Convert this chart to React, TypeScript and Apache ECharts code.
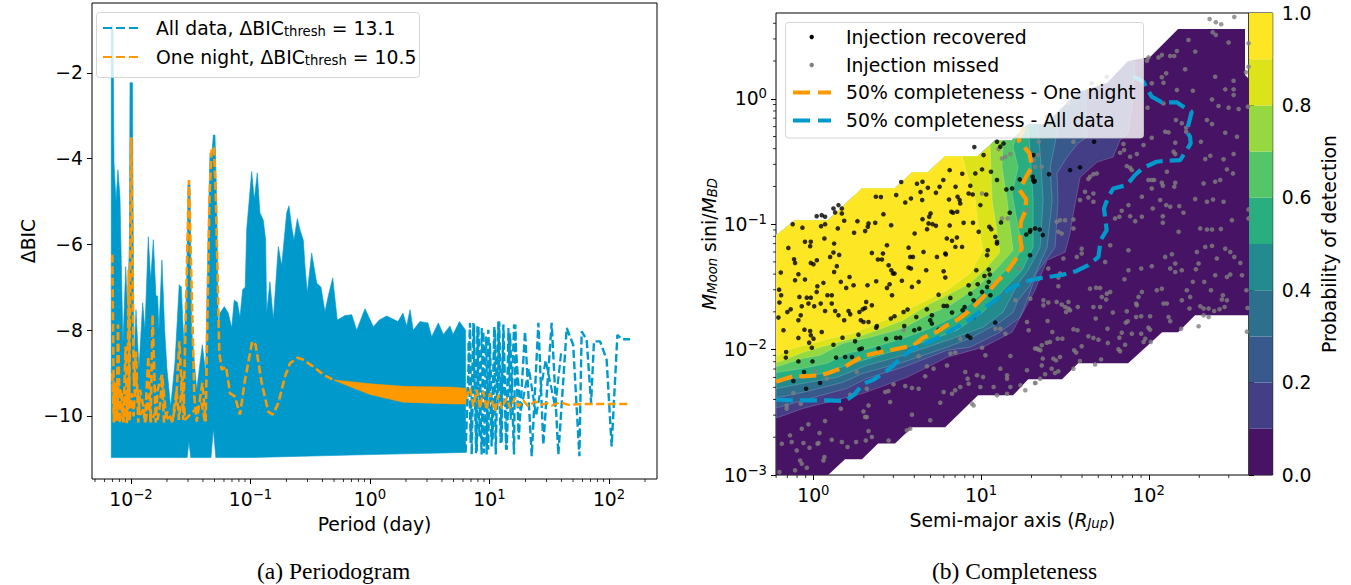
import React, { useEffect, useRef } from "react";
import * as echarts from "echarts";

const FONT = "DejaVu Sans";
const FS = 18.8;
const BLUE = "#0099CC";
const ORANGE = "#FF9900";

// Left panel. Each pair is [log10(period in days), delta BIC].
const allDataUpper: number[][] = [[-2.165,-0.9],[-2.15,-0.9],[-2.142,-4.1],[-2.125,-5],[-2.109,-4.26],[-2.092,-4.9],[-2.084,-6],[-2.067,-8.3],[-2.044,-6.52],[-2.029,-7.5],[-2.013,-6],[-2.008,-2.23],[-1.987,-2.23],[-1.983,-5],[-1.975,-8.76],[-1.958,-7.52],[-1.933,-8.9],[-1.902,-7.36],[-1.883,-8],[-1.855,-5.82],[-1.835,-6.83],[-1.813,-5.89],[-1.791,-7.2],[-1.777,-7.2],[-1.766,-8],[-1.741,-6.36],[-1.718,-8],[-1.699,-8.9],[-1.668,-9.79],[-1.632,-8.76],[-1.596,-6.94],[-1.579,-6.99],[-1.556,-8.39],[-1.534,-7],[-1.523,-4.6],[-1.506,-4.6],[-1.492,-8],[-1.45,-9.39],[-1.403,-8.34],[-1.375,-9],[-1.356,-6],[-1.339,-3.87],[-1.322,-3.87],[-1.311,-3.45],[-1.297,-3.45],[-1.283,-5],[-1.269,-8],[-1.255,-7.6],[-1.219,-7.45],[-1.186,-7.6],[-1.157,-7.95],[-1.136,-7.3],[-1.11,-7.35],[-1.088,-7.7],[-1.065,-7.05],[-1.044,-7],[-1.032,-5.66],[-0.99,-4.3],[-0.968,-4.96],[-0.943,-4.33],[-0.921,-5.26],[-0.893,-5.43],[-0.873,-5.9],[-0.865,-7.6],[-0.837,-6.87],[-0.809,-7.75],[-0.767,-6.05],[-0.739,-6.5],[-0.697,-5.26],[-0.678,-5.1],[-0.655,-5.6],[-0.636,-5.9],[-0.608,-5.4],[-0.586,-5.66],[-0.558,-5.9],[-0.544,-6.5],[-0.525,-7.13],[-0.488,-6.2],[-0.446,-6.9],[-0.41,-7],[-0.377,-7.57],[-0.349,-7.2],[-0.312,-6.78],[-0.274,-7.76],[-0.209,-7.66],[-0.153,-7.64],[-0.111,-8],[-0.042,-7.5],[0.028,-7.92],[0.078,-7.76],[0.14,-7.67],[0.234,-7.8],[0.276,-7.6],[0.307,-7.9],[0.335,-7.52],[0.362,-8],[0.418,-7.8],[0.485,-7.83],[0.516,-8.15],[0.572,-7.83],[0.614,-8.1],[0.669,-7.9],[0.695,-8.1],[0.748,-7.8],[0.8,-8]];
const allDataLower: number[][] = [[0.8,-10.85],[0.5,-10.87],[0,-10.9],[-1,-10.97],[-1.29,-10.97],[-1.311,-10.3],[-1.33,-10.97],[-1.5,-10.97],[-1.515,-10.6],[-1.53,-10.97],[-2.165,-10.97]];
const allDataLongPeriods: number[][] = [[0.8,-10.85],[0.837,-7.83],[0.851,-10.9],[0.87,-7.87],[0.893,-10.83],[0.907,-7.91],[0.934,-10.9],[0.948,-8.03],[0.976,-10.9],[0.99,-7.99],[1.018,-10.71],[1.04,-7.91],[1.052,-10.9],[1.074,-7.8],[1.093,-10.63],[1.116,-7.87],[1.144,-10.79],[1.172,-8.07],[1.205,-10.9],[1.216,-7.87],[1.244,-10.55],[1.297,-8.03],[1.353,-10.94],[1.409,-7.83],[1.45,-10.67],[1.52,-7.83],[1.576,-10.9],[1.646,-7.95],[1.7,-8.34],[1.752,-10.94],[1.771,-8.03],[1.813,-8.22],[1.85,-9.7],[1.874,-8.26],[1.925,-8.26],[1.98,-8.69],[2.022,-10.71],[2.07,-8.11],[2.106,-8.21],[2.176,-8.21]];
const allDataLongPeriodsInner: number[][] = [[0.823,-8.3],[0.842,-10.63],[0.865,-7.83],[0.887,-10.87],[0.898,-7.91],[0.915,-10.48],[0.935,-7.95],[0.954,-10.87],[0.971,-8.15],[0.99,-10.79],[1.004,-8.3],[1.027,-10.55],[1.046,-7.99],[1.066,-9.85],[1.082,-7.8],[1.102,-10.63],[1.116,-8.07],[1.138,-10.79],[1.158,-7.95],[1.177,-10.09],[1.205,-7.87],[1.26,-9.9],[1.33,-8.9],[1.39,-10],[1.47,-8.7],[1.55,-9.8],[1.6,-8.5]];
const oneNightLeft: number[][] = [[-2.156,-6.24],[-2.142,-10.15],[-2.131,-9.31],[-2.12,-10.15],[-2.109,-7.87],[-2.092,-10.15],[-2.085,-9.4],[-2.078,-9.39],[-2.064,-10.15],[-2.045,-8.38],[-2.031,-10.15],[-2.019,-6.59],[-2.014,-9.8],[-1.997,-3.5],[-1.98,-8.38],[-1.975,-9.31],[-1.958,-8.5],[-1.939,-10.15],[-1.925,-9.39],[-1.902,-9.7],[-1.883,-10.15],[-1.855,-8.61],[-1.835,-10.15],[-1.819,-7.64],[-1.793,-10.15],[-1.777,-9.39],[-1.741,-9.04],[-1.724,-10.15],[-1.696,-9.9],[-1.654,-10.13],[-1.623,-9.7],[-1.595,-8.26],[-1.562,-10.09],[-1.515,-4.5],[-1.47,-9.55],[-1.45,-10.13],[-1.403,-9.23],[-1.375,-10.13],[-1.344,-5],[-1.325,-3.75],[-1.305,-3.75],[-1.289,-5],[-1.261,-8.53],[-1.241,-8.92],[-1.205,-8.85],[-1.171,-9.47],[-1.13,-9.55],[-1.088,-9.97],[-1.046,-9.16],[-0.985,-8.26],[-0.957,-8.34],[-0.906,-9.23],[-0.851,-9.9],[-0.814,-9.97],[-0.767,-9.7],[-0.711,-9.08],[-0.669,-8.77],[-0.608,-8.64],[-0.558,-8.69],[-0.46,-8.88],[-0.39,-9.04],[-0.307,-9.16]];
const oneNightDense: number[][] = [[-2.156,-9],[-2.142,-10.13],[-2.128,-9.23],[-2.117,-10.09],[-2.106,-9.31],[-2.095,-10.17],[-2.078,-9.54],[-2.064,-10.13],[-2.05,-9.51],[-2.036,-10.17],[-2.022,-9.27],[-2.011,-10.13],[-1.994,-9.47],[-1.978,-10.01],[-1.961,-9.08],[-1.939,-9.58],[-1.925,-9.97],[-1.897,-9.85],[-1.877,-10.17],[-1.855,-9.51],[-1.833,-10.13],[-1.799,-9.93],[-1.777,-10.09],[-1.757,-9.74],[-1.738,-9.08],[-1.71,-9.93],[-1.687,-10.09],[-1.654,-10.13],[-1.618,-9.39],[-1.598,-10.09],[-1.57,-9.08],[-1.548,-10.09],[-1.409,-9.7],[-1.381,-10.13]];
const oneNightBand: number[][] = [[-0.3,-9.16],[0,-9.25],[0.28,-9.31],[0.7,-9.33],[0.81,-9.36],[0.81,-9.72],[0.7,-9.72],[0.28,-9.68],[0,-9.5],[-0.3,-9.17]];
const oneNightRight: number[][] = [[0.8,-9.6],[0.837,-9.35],[0.865,-9.78],[0.893,-9.39],[0.92,-9.82],[0.948,-9.43],[0.976,-9.86],[1.004,-9.47],[1.046,-9.89],[1.074,-9.51],[1.102,-9.82],[1.144,-9.58],[1.172,-9.82],[1.213,-9.58],[1.241,-9.78],[1.283,-9.64],[1.325,-9.78],[1.381,-9.66],[1.437,-9.74],[1.478,-9.7],[1.52,-9.76],[1.59,-9.68],[1.66,-9.74],[1.757,-9.72],[2.176,-9.72]];

// Right panel. Each pair is [log10(semi-major axis), log10(mass ratio)].
const contourLevels = [0.1,0.2,0.3,0.4,0.5,0.6,0.7,0.8,0.9];
const levelColors = ["#471465","#433E85","#38598C","#2D708E","#238A8D","#29AF7F","#55C667","#95D840","#DCE319","#FDE725"];
const regionTop: number[][] = [[-0.222,-1.088],[-0.109,-0.968],[0.088,-0.968],[0.29,-0.713],[0.487,-0.713],[0.589,-0.585],[0.684,-0.585],[0.786,-0.457],[0.982,-0.457],[1.084,-0.33],[1.185,-0.33],[1.281,-0.202],[1.382,-0.202],[1.483,-0.074],[1.579,0.053],[1.752,0.125],[1.877,0.301],[2.008,0.333],[2.175,0.556],[2.574,0.556],[2.574,0.189],[2.598,0.157]];
const regionBottom: number[][] = [[2.598,-1.726],[2.276,-1.726],[2.175,-1.862],[2.08,-1.862],[1.877,-2.109],[1.579,-2.109],[1.483,-2.237],[1.281,-2.237],[1.191,-2.365],[0.982,-2.365],[0.786,-2.62],[0.589,-2.62],[0.487,-2.748],[0.386,-2.748],[0.29,-2.875],[0.189,-2.875],[0.088,-3],[-0.222,-3]];
const contour01: number[][] = [[1.919,0.293],[1.907,-0.01],[1.877,-0.274],[1.829,-0.33],[1.787,-0.465],[1.692,-0.505],[1.591,-0.625],[1.543,-0.968],[1.531,-1.072],[1.501,-1.224],[1.394,-1.287],[1.352,-1.423],[1.322,-1.527],[1.185,-1.862],[1.012,-1.981],[0.798,-2.061],[0.559,-2.221],[0.296,-2.349],[0.201,-2.381],[-0.061,-2.469],[-0.21,-2.541]];
const contour02: number[][] = [[1.62,0.07],[1.632,-0.306],[1.579,-0.354],[1.513,-0.465],[1.453,-0.593],[1.459,-0.808],[1.442,-1.184],[1.334,-1.383],[1.281,-1.583],[1.233,-1.742],[1.113,-1.862],[0.935,-1.981],[0.798,-2.005],[0.535,-2.141],[0.32,-2.229],[0.201,-2.309],[-0.061,-2.405],[-0.21,-2.461]];
const contour03: number[][] = [[1.483,-0.074],[1.412,-0.545],[1.424,-0.808],[1.394,-1.184],[1.293,-1.487],[1.221,-1.607],[1.191,-1.702],[1.113,-1.782],[0.935,-1.91],[0.798,-1.981],[0.535,-2.101],[0.296,-2.189],[0.177,-2.261],[-0.061,-2.341],[-0.21,-2.381]];
const contour04: number[][] = [[1.34,-0.202],[1.358,-0.545],[1.37,-0.808],[1.352,-1.184],[1.281,-1.367],[1.221,-1.471],[1.131,-1.702],[1.012,-1.822],[0.798,-1.926],[0.535,-2.046],[0.32,-2.125],[0.141,-2.221],[-0.061,-2.269],[-0.21,-2.309]];
const contour05: number[][] = [[1.281,-0.202],[1.299,-0.545],[1.311,-0.808],[1.311,-1.184],[1.245,-1.367],[1.131,-1.527],[1.012,-1.702],[0.857,-1.846],[0.696,-1.926],[0.535,-1.989],[0.338,-2.069],[0.201,-2.125],[0.058,-2.189],[-0.061,-2.221],[-0.21,-2.245]];
const contour06: number[][] = [[1.215,-0.274],[1.191,-0.385],[1.221,-0.545],[1.185,-0.753],[1.221,-1.024],[1.251,-1.184],[1.191,-1.311],[1.096,-1.431],[0.976,-1.583],[0.857,-1.726],[0.696,-1.83],[0.535,-1.91],[0.338,-1.989],[0.201,-2.03],[0.082,-2.109],[-0.061,-2.149],[-0.21,-2.181]];
const contour07: number[][] = [[1.131,-0.33],[1.125,-0.545],[1.155,-0.808],[1.173,-1.024],[1.191,-1.208],[1.096,-1.351],[0.976,-1.503],[0.815,-1.647],[0.678,-1.726],[0.535,-1.83],[0.338,-1.902],[0.177,-1.95],[0.04,-2.046],[-0.061,-2.069],[-0.21,-2.133]];
const contour08: number[][] = [[1.054,-0.37],[1.066,-0.808],[1.096,-1.072],[1.113,-1.224],[1.036,-1.343],[0.935,-1.471],[0.774,-1.583],[0.678,-1.647],[0.535,-1.766],[0.38,-1.846],[0.237,-1.91],[0.04,-1.981],[-0.061,-2.022],[-0.21,-2.101]];
const contour09: number[][] = [[0.887,-0.457],[0.911,-0.569],[0.965,-0.808],[0.982,-1.008],[1.012,-1.208],[0.935,-1.391],[0.798,-1.527],[0.636,-1.631],[0.499,-1.726],[0.38,-1.79],[0.237,-1.87],[0.1,-1.91],[-0.002,-1.95],[-0.121,-1.989],[-0.21,-2.046]];
const contours = [contour01,contour02,contour03,contour04,contour05,contour06,contour07,contour08,contour09];

const completenessOneNight: number[][] = [[-0.222,-2.255],[-0.208,-2.25],[-0.119,-2.213],[-0.059,-2.213],[0.04,-2.205],[0.09,-2.186],[0.179,-2.144],[0.259,-2.08],[0.299,-2.051],[0.358,-2.032],[0.458,-2.006],[0.507,-1.992],[0.597,-1.966],[0.656,-1.905],[0.736,-1.859],[0.796,-1.806],[0.855,-1.766],[0.915,-1.708],[0.975,-1.633],[1.034,-1.553],[1.094,-1.46],[1.153,-1.381],[1.203,-1.288],[1.243,-1.194],[1.233,-1.114],[1.237,-0.981],[1.263,-0.901],[1.269,-0.802],[1.229,-0.728],[1.269,-0.622],[1.303,-0.542],[1.289,-0.435],[1.223,-0.329],[1.253,-0.236],[1.283,-0.21]];
const completenessAllData: number[][] = [[-0.222,-2.399],[-0.109,-2.405],[-0.019,-2.405],[0.09,-2.405],[0.189,-2.41],[0.239,-2.365],[0.299,-2.272],[0.358,-2.24],[0.428,-2.179],[0.478,-2.125],[0.527,-2.059],[0.597,-1.992],[0.666,-1.952],[0.756,-1.899],[0.875,-1.806],[0.955,-1.74],[1.014,-1.673],[1.084,-1.607],[1.173,-1.514],[1.253,-1.46],[1.352,-1.43],[1.431,-1.415],[1.491,-1.402],[1.57,-1.373],[1.64,-1.327],[1.7,-1.261],[1.713,-1.128],[1.749,-1.047],[1.733,-0.874],[1.759,-0.781],[1.789,-0.715],[1.869,-0.688],[1.918,-0.608],[1.968,-0.55],[2.047,-0.502],[2.097,-0.494],[2.187,-0.489],[2.226,-0.409],[2.25,-0.356],[2.246,-0.302],[2.226,-0.263],[2.256,-0.103],[2.206,-0.063],[2.167,-0.028],[2.077,-0.028],[2.018,0.017],[1.988,0.083],[1.968,0.136],[1.908,0.176]];

const recovered: number[][] = [[0.96,-0.385],[1.095,-0.342],[1.134,-0.356],[1.115,-0.382],[1.015,-0.449],[-0.123,-1],[-0.065,-1.028],[0.02,-0.936],[0.05,-0.928],[0.07,-0.941],[0.12,-0.875],[0.15,-0.848],[0.17,-0.875],[0.13,-0.906],[0.17,-0.914],[0.184,-0.973],[0.07,-1],[0.046,-1.016],[0.146,-1.034],[0.263,-0.976],[0.243,-1.069],[0.329,-0.994],[0.325,-1.021],[0.309,-1.055],[0.369,-0.989],[0.464,-1.008],[0.418,-0.92],[0.373,-0.781],[0.403,-0.784],[0.494,-0.768],[0.524,-0.664],[0.548,-0.827],[0.582,-0.795],[0.618,-0.678],[0.651,-0.662],[0.639,-0.744],[0.649,-0.808],[0.683,-0.71],[0.731,-0.75],[0.753,-0.702],[0.775,-0.648],[0.813,-0.569],[0.888,-0.598],[0.848,-0.702],[0.809,-0.803],[0.86,-0.781],[0.872,-0.808],[0.876,-0.835],[0.926,-0.755],[0.95,-0.763],[0.936,-0.694],[0.966,-0.595],[1.006,-0.563],[1.059,-0.582],[1.095,-0.648],[0.996,-0.848],[1.031,-0.763],[1.151,-0.723],[1.185,-0.715],[1.231,-0.643],[0.823,-0.901],[0.833,-0.909],[0.858,-0.901],[0.699,-0.914],[0.691,-0.941],[0.651,-0.96],[0.687,-0.994],[0.711,-1],[0.678,-1.04],[0.731,-1.013],[0.813,-1.01],[0.896,-0.989],[0.952,-0.989],[0.604,-1.074],[1.049,-1.021],[1.061,-1.04],[0.986,-1.061],[1.171,-0.909],[1.119,-0.986],[1.31,-0.648],[1.32,-0.656],[1.294,-1.047],[1.35,-1.042],[1.27,-1.082],[0.796,-1.114],[0.856,-1.106],[0.066,-1.114],[1.085,-1.101],
[-0.149,-1.189],[-0.05,-1.141],[-0.015,-1.141],[-0.019,-1.176],[0.124,-1.155],[-0.115,-1.28],[-0.109,-1.309],[-0.015,-1.309],[0.001,-1.32],[0.021,-1.288],[0.1,-1.261],[0.12,-1.226],[0.154,-1.245],[0.14,-1.335],[0.124,-1.381],[-0.194,-1.386],[-0.089,-1.399],[-0.109,-1.447],[-0.05,-1.442],[0.164,-1.46],[0.216,-1.421],[0.24,-1.487],[0.196,-1.508],[0.06,-1.468],[0.024,-1.495],[0.02,-1.54],[0.084,-1.567],[0.11,-1.567],[0.323,-1.487],[0.375,-1.455],[-0.204,-1.522],[-0.192,-1.567],[-0.202,-1.625],[-0.083,-1.58],[-0.039,-1.586],[-0.015,-1.586],[-0.029,-1.633],[-0.069,-1.655],[0.005,-1.655],[0.044,-1.633],[0.11,-1.633],[-0.155,-1.7],[-0.135,-1.679],[-0.075,-1.727],[-0.089,-1.766],[-0.208,-1.745],[-0.178,-1.846],[0.07,-1.692],[0.13,-1.692],[0.15,-1.727],[0.21,-1.692],[0.22,-1.719],[0.184,-1.766],[0.275,-1.7],[0.295,-1.679],[0.309,-1.668],[0.315,-1.62],[0.349,-1.647],[0.283,-1.766],[0.299,-1.78],[0.329,-1.78],[-0.053,-1.841],[-0.019,-1.852],[-0.015,-1.886],[0.05,-1.86],[-0.089,-1.907],[0.001,-1.913],[-0.025,-1.945],[-0.009,-1.985],[0.12,-1.961],[0.174,-1.905],[0.269,-1.881],[0.249,-1.934],[0.379,-1.812],[0.375,-1.825],[0.484,-1.734],[0.462,-1.753],[0.538,-1.7],[0.562,-1.681],[0.614,-1.74],[0.677,-1.679],[0.707,-1.727],[0.707,-1.793],[0.542,-1.812],[0.602,-1.846],[0.632,-1.833],[0.434,-1.915],[0.494,-1.907],[0.518,-1.905],[0.289,-1.992],[0.275,-1.998],[0.389,-1.992],[0.136,-2.064],[0.19,-2.059],[0.23,-2.059],[-0.005,-2.094],[-0.089,-2.094],[-0.164,-2.064],[-0.162,-2.019],[-0.055,-2.179],[-0.119,-2.25],[-0.043,-2.312],[0.04,-2.266],[0.747,-1.562],[0.817,-1.588],[0.89,-1.687],[0.797,-1.652],[0.827,-1.705],[0.777,-1.652],[0.926,-1.487],[0.936,-1.554],[0.98,-1.479],[0.972,-1.367],[1.02,-1.413],[1.052,-1.402],[1.046,-1.362],[1.046,-1.46],[1.036,-1.5],[1.006,-1.54],[0.956,-1.607],[1.056,-1.567],[1.04,-1.208],[1.036,-1.248],[1.095,-1.141],[1.095,-1.155],[0.657,-1.221],[0.737,-1.261],[0.787,-1.234],[0.79,-1.242],[0.568,-1.187],[0.578,-1.261],[0.594,-1.261],[0.349,-1.229],[0.385,-1.282],[0.415,-1.234],[0.409,-1.282],[0.439,-1.168],[0.449,-1.328],[0.465,-1.367],[0.475,-1.394],[0.484,-1.394],[0.528,-1.452],[0.568,-1.346],[0.582,-1.354],[0.673,-1.367],[0.777,-1.375],[0.787,-1.426],[0.628,-1.46],[0.588,-1.5],[0.439,-1.508],[0.455,-1.479],[0.469,-1.567],[0.92,-1.891],[0.936,-1.905],[1.085,-1.785],[0.956,-1.74],[0.902,-1.66],[0.747,-1.841],[0.697,-1.766],[0.827,-1.133],[0.887,-1.181],[0.847,-1.181],
[1.674,-0.343],[1.59,-0.547],[1.531,-0.569],[1.405,-0.601],[1.308,-0.622],[1.316,-0.662],[1.322,-1.034],[1.368,-1.087],[1.292,-1.061],[1.312,-0.449],[1.292,-1.248]];

const missed: number[][] = [[2.363,0.636],[2.4,0.61],[2.432,0.594],[2.51,0.652],[2.381,0.53],[2.4,0.509],[2.237,0.469],[2.476,0.448],[2.277,0.376],[2.168,0.381],[2.152,0.341],[2.128,0.341],[2.078,0.349],[2.058,0.33],[1.998,0.33],[1.989,0.304],[2.217,0.235],[2.104,0.203],[2.078,0.171],[2.58,0.211],[2.595,0.256],[2.595,0.442],[2.396,0.176],[2.506,0.144],[2.018,0.123],[2.088,0.128],[2.168,0.07],[2.263,0.064],[2.456,0.075],[2.506,0.075],[2.506,0.03],[2.377,-0.005],[1.993,-0.071],[2.088,-0.037],[2.416,-0.058],[2.476,-0.071],[2.536,-0.082],[2.591,-0.063],[2.162,-0.17],[2.197,-0.196],[2.223,-0.231],[2.223,-0.263],[2.098,-0.263],[2.118,-0.268],[2.347,-0.17],[2.377,-0.202],[2.456,-0.271],[2.526,-0.303],[2.018,-0.311],[1.969,-0.369],[1.849,-0.361],[1.853,-0.409],[1.829,-0.43],[1.929,-0.441],[1.889,-0.462],[2.158,-0.35],[2.148,-0.422],[2.158,-0.441],[2.311,-0.343],[2.337,-0.481],[2.367,-0.454],[2.446,-0.483],[2.506,-0.441],[1.869,-0.537],[1.889,-0.55],[1.899,-0.569],[2.108,-0.582],[2.466,-0.563],[2.502,-0.595],[1.69,-0.595],[1.67,-0.601],[1.65,-0.622],[1.64,-0.64],[1.998,-0.648],[2.018,-0.648],[2.032,-0.648],[2.078,-0.67],[2.084,-0.694],[2.158,-0.67],[2.152,-0.702],[2.327,-0.675],[2.396,-0.662],[2.426,-0.648],[2.018,-0.715],[1.62,-0.742],[1.67,-0.755],[1.59,-0.808],[1.64,-0.787],[1.67,-0.821],[1.959,-0.781],[1.879,-0.848],[1.839,-0.893],[1.825,-0.941],[1.799,-0.954],[2.068,-0.808],[2.024,-0.875],[2.104,-0.848],[2.128,-0.861],[2.182,-0.856],[2.207,-0.909],[2.277,-0.8],[2.347,-0.821],[2.383,-0.803],[2.446,-0.821],[2.595,-0.882],[1.889,-0.936],[1.919,-0.976],[1.959,-0.941],[2.084,-0.936],[2.084,-0.989],[2.178,-1.061],[2.307,-1.034],[2.347,-1.042],[2.377,-1.042],[2.43,-1.039],[2.496,-0.968],[2.595,-0.954],[1.471,-0.968],[1.501,-0.968],[1.551,-0.962],[1.451,-0.981],[1.551,-1.034],[1.461,-1.061],[1.481,-1.074],[1.75,0.176],[1.66,0.123],[1.521,-0.037],[1.392,-0.143],[1.362,-0.542],[1.322,-0.542],[1.551,-0.343],
[1.6,-1.195],[1.571,-1.261],[1.6,-1.234],[1.491,-1.274],[1.461,-1.426],[1.471,-1.394],[1.461,-1.495],[1.401,-1.354],[1.74,-1.301],[1.77,-1.168],[1.879,-1.208],[1.879,-1.367],[2.018,-1.335],[1.955,-1.354],[1.855,-1.439],[1.65,-1.514],[1.686,-1.506],[1.71,-1.508],[1.77,-1.54],[1.75,-1.554],[1.72,-1.58],[1.746,-1.601],[2.098,-1.261],[2.138,-1.24],[2.158,-1.314],[2.128,-1.354],[2.158,-1.381],[2.197,-1.367],[2.287,-1.221],[2.337,-1.181],[2.377,-1.173],[2.456,-1.195],[2.486,-1.221],[2.51,-1.261],[2.546,-1.309],[2.297,-1.314],[2.406,-1.274],[2.281,-1.359],[2.396,-1.407],[2.466,-1.421],[2.486,-1.402],[2.556,-1.407],[2.263,-1.46],[2.331,-1.46],[2.371,-1.527],[2.582,-1.527],[2.048,-1.527],[2.078,-1.514],[1.959,-1.54],[1.939,-1.58],[1.925,-1.633],[1.929,-1.647],[2.227,-1.527],[2.247,-1.58],[2.197,-1.607],[2.088,-1.633],[2.108,-1.633],[2.442,-1.567],[2.436,-1.601],[2.466,-1.607],[2.307,-1.655],[2.327,-1.673],[2.357,-1.673],[2.39,-1.692],[2.422,-1.679],[2.452,-1.66],[2.243,-1.673],[2.589,-1.668],[2.327,-1.727],[2.357,-1.74],[2.297,-1.814],[2.585,-1.857],[2.193,-1.833],[2.118,-1.74],[2.128,-1.774],[2.008,-1.734],[1.955,-1.734],[1.925,-1.74],[1.869,-1.695],[1.875,-1.774],[1.863,-1.785],[1.786,-1.705],[1.71,-1.66],[1.67,-1.66],[1.577,-1.66],[1.521,-1.673],[1.501,-1.66],[1.481,-1.641],[1.451,-1.62],[1.401,-1.625],[1.372,-1.647],[1.372,-1.607],[1.521,-1.62],[1.507,-1.7],[1.531,-1.687],[1.397,-1.772],[1.425,-1.86],[1.551,-1.838],[1.575,-1.846],[1.684,-1.753],[1.754,-1.833],[1.839,-1.865],[1.899,-1.873],[1.955,-1.873],[1.998,-1.825],[2.008,-1.841],[1.825,-1.905],[1.859,-1.961],[1.979,-1.913],[1.969,-1.939],[2.012,-1.939],[1.64,-1.894],[1.67,-1.907],[1.7,-1.921],[1.6,-1.974],[1.555,-2.006],[1.567,-2.024],[1.756,-1.947],[1.819,-1.998],[1.829,-2.014],[1.59,-2.091],[1.551,-2.152],[1.68,-2.118],[1.716,-2.078],[1.485,-1.913],[1.457,-1.913],[1.411,-1.939],[1.392,-1.945],[1.362,-1.966],[1.322,-1.992],[1.342,-2],[1.368,-2.072],[1.431,-2.072],[1.471,-2.059],[1.447,-2.086],[1.362,-2.126],[1.421,-2.152],[1.461,-2.173],[1.441,-2.187],[1.382,-2.197],[1.352,-2.232],[1.322,-2.266],
[0.588,-2.519],[0.697,-2.564],[0.578,-2.631],[0.558,-2.644],[0.449,-2.724],[0.329,-2.445],[0.319,-2.538],[0.309,-2.538],[0.299,-2.493],[0.329,-2.65],[0.349,-2.697],[0.313,-2.724],[0.255,-2.737],[0.204,-2.777],[0.17,-2.737],[0.11,-2.719],[0.066,-2.857],[0.06,-2.884],[0.031,-2.745],[0.025,-2.751],[-0.023,-2.783],[-0.059,-2.745],[-0.099,-2.804],[-0.139,-2.684],[-0.129,-2.737],[-0.188,-2.751],[-0.069,-2.631],[-0.029,-2.596],[0.037,-2.665],[0.07,-2.57],[-0.079,-2.884],[-0.069,-2.91],[-0.039,-2.942],[-0.109,-2.963],[-0.202,-2.977],[-0.159,-2.445],[-0.159,-2.471],[-0.075,-2.431],[0.22,-2.36],[0.249,-2.352],[0.319,-2.312],[0.429,-2.338],[0.448,-2.33],[0.478,-2.277],[0.548,-2.29],[0.588,-2.306],[0.628,-2.312],[0.667,-2.213],[0.717,-2.152],[0.797,-2.126],[0.757,-2.423],[0.777,-2.338],[0.827,-2.352],[0.876,-2.298],[0.846,-2.325],[0.906,-2.179],[0.92,-2.232],[0.926,-2.272],[0.946,-2.431],[0.956,-2.445],[0.976,-2.205],[1.012,-2.219],[0.996,-2.298],[1.075,-2.298],[1.155,-2.205],[1.155,-2.232],[1.115,-2.152],[1.175,-2.051],[1.026,-2.046],[1.006,-1.985],[1.115,-1.833],[1.085,-1.833],[1.145,-1.873],[1.205,-1.607],[1.274,-1.78],[1.284,-1.846],[1.294,-1.594],[1.334,-1.992],[1.354,-2.006],[1.274,-2.165],[1.324,-2.266],[1.264,-2.325],[1.235,-2.285],[1.175,-2.298],[1.155,-2.352],[1.095,-2.365],[0.817,-2.032],[0.846,-2.024],[0.876,-1.913],[0.926,-1.899],[0.628,-2.054],[0.677,-2.133],[0.538,-1.846],[0.259,-2.179],[0.08,-2.232],[0.011,-2.171],[-0.119,-2.346],[1.225,-1.354],[1.344,-1.434],[0.164,-2.471],[0.458,-2.418],
[1.006,-0.755],[1.145,-0.462],[1.125,-0.476],[1.105,-0.401],[1.175,-0.441],[1.314,-0.489],[1.344,-0.343],[1.125,-0.954],[1.159,-0.954],[1.34,-0.449],[1.274,-0.888]];

const periodTicks = [0.01,0.1,1,10,100];
const bicTicks = [-10,-8,-6,-4,-2];
const axisTicks = [1,10,100];
const massTicks = [0.001,0.01,0.1,1];
const minorDigits = [2,3,4,5,6,7,8,9];

const unlog = (p: number[]) => [Math.pow(10, p[0]), Math.pow(10, p[1])];
const unlogX = (p: number[]) => [Math.pow(10, p[0]), p[1]];

const powerLabel = (v: number) => "{b|10}{s|" + String(Math.round(Math.log10(v))).replace("-", "\u2212") + "}";
const powerRich = {
  b: { fontFamily: FONT, fontSize: FS, color: "#000" },
  s: { fontFamily: FONT, fontSize: 13.2, color: "#000", padding: [0, 0, 10, 0] },
};
const decades = (from: number, to: number) => {
  const out: number[] = [];
  for (let e = from; e <= to; e++) minorDigits.forEach((d) => out.push(d * Math.pow(10, e)));
  return out;
};

const polySeries = (x: number, pts: () => number[][], fill: string, stroke: string, name: string) => ({
  type: "custom", name, xAxisIndex: x, yAxisIndex: x, silent: true, clip: true, z: 2,
  data: [[pts()[0][0], pts()[0][1]]],
  renderItem: (_: any, api: any) => ({
    type: "polygon",
    shape: { points: pts().map((p) => api.coord(p)) },
    style: { fill, stroke, lineWidth: stroke === "none" ? 0 : 0.6 },
  }),
});

const minorSeries = (index: number, xs: number[], ys: number[]) => ({
  type: "custom", xAxisIndex: index, yAxisIndex: index, silent: true, z: 5, clip: false,
  data: [[xs[0], ys.length ? ys[0] : -10]],
  renderItem: (params: any, api: any) => {
    const c = params.coordSys;
    const bottom = c.y + c.height;
    const left = c.x;
    const refY = index === 0 ? -10 : 0.01;
    const refX = 1;
    const children: any[] = [];
    xs.forEach((v) => {
      const px = api.coord([v, refY])[0];
      if (px >= c.x && px <= c.x + c.width)
        children.push({ type: "line", shape: { x1: px, y1: bottom, x2: px, y2: bottom + 3 }, style: { stroke: "#000", lineWidth: 0.8 } });
    });
    ys.forEach((v) => {
      const py = api.coord([refX, v])[1];
      if (py >= c.y && py <= bottom)
        children.push({ type: "line", shape: { x1: left, y1: py, x2: left - 3, y2: py }, style: { stroke: "#000", lineWidth: 0.8 } });
    });
    return { type: "group", children };
  },
});

const subRich = {
  n: { fontFamily: FONT, fontSize: FS, color: "#000" },
  u: { fontFamily: FONT, fontSize: 13.2, color: "#000", padding: [7, 0, 0, 0] },
};

const legendEntry = (x: number, y: number, text: string) => ({
  type: "text", x, y, z: 101,
  style: { text, font: `${FS}px "${FONT}"`, fill: "#000", verticalAlign: "middle", rich: subRich },
});
const legendDash = (x1: number, x2: number, y: number, stroke: string, lineWidth: number, lineDash: number[]) => ({
  type: "line", z: 101, shape: { x1, y1: y, x2, y2: y }, style: { stroke, lineWidth, lineDash },
});

export default function App() {
  const ref = useRef<HTMLDivElement>(null);
  useEffect(() => {
    const chart = echarts.init(ref.current!, undefined, { renderer: "svg" });
    const regionPolygon = () => [...regionTop, ...regionBottom].map(unlog);
    const levelPolygon = (c: number[][]) => () => {
      const top = regionTop.filter((p) => p[0] < c[0][0]);
      const last = c[c.length - 1];
      return [...top, ...c, [-0.222, last[1]]].map(unlog);
    };
    const bluePolygon = () => [...allDataUpper, ...allDataLower].map(unlogX);
    const bandPolygon = () => oneNightBand.map(unlogX);
    const tickAxis = {
      axisLine: { show: false },
      splitLine: { show: false },
      minorTick: { show: false },
      minorSplitLine: { show: false },
    };
    const nameRich = { ...subRich, i: { fontFamily: FONT, fontSize: FS, fontStyle: "italic", color: "#000" }, u: { ...subRich.u, fontStyle: "italic" } };
    const lineLeft = (name: string, data: number[][], color: string, width: number, dash: number[], z: number) => ({
      type: "line", name, xAxisIndex: 0, yAxisIndex: 0, data: data.map(unlogX), symbol: "none", z,
      lineStyle: { color, width, type: dash },
    });
    chart.setOption({
      animation: false,
      grid: [
        { left: 92, top: 3, width: 565, height: 476, show: true, borderColor: "#000", borderWidth: 1, backgroundColor: "transparent" },
        { left: 776, top: 13, width: 473, height: 462, show: true, borderColor: "#000", borderWidth: 1, backgroundColor: "transparent" },
        { left: 1249, top: 13, width: 23.7, height: 462, show: true, borderColor: "#000", borderWidth: 1, backgroundColor: "transparent" },
      ],
      xAxis: [
        {
          gridIndex: 0, type: "log", min: 0.00472, max: 252, ...tickAxis,
          name: "Period (day)", nameLocation: "middle", nameGap: 36,
          nameTextStyle: { fontFamily: FONT, fontSize: FS, color: "#000" },
          axisTick: { show: true, length: 5, customValues: periodTicks, lineStyle: { color: "#000" } },
          axisLabel: { customValues: periodTicks, margin: 9, formatter: powerLabel, rich: powerRich },
        },
        {
          gridIndex: 1, type: "log", min: 0.599, max: 396, ...tickAxis,
          name: "{n|Semi-major axis (}{i|R}{u|Jup}{n|)}", nameLocation: "middle", nameGap: 35,
          nameTextStyle: { rich: nameRich },
          axisTick: { show: true, length: 5, customValues: axisTicks, lineStyle: { color: "#000" } },
          axisLabel: { customValues: axisTicks, margin: 9, formatter: powerLabel, rich: powerRich },
        },
        { gridIndex: 2, type: "value", min: 0, max: 1, show: false },
      ],
      yAxis: [
        {
          gridIndex: 0, type: "value", min: -11.47, max: -0.37, ...tickAxis,
          name: "\u0394BIC", nameLocation: "middle", nameGap: 54,
          nameTextStyle: { fontFamily: FONT, fontSize: FS, color: "#000" },
          axisTick: { show: true, length: 5, customValues: bicTicks, lineStyle: { color: "#000" } },
          axisLabel: { customValues: bicTicks, margin: 9, fontFamily: FONT, fontSize: FS, color: "#000", formatter: (v: number) => String(v).replace("-", "\u2212") },
        },
        {
          gridIndex: 1, type: "log", min: 0.001, max: 4.83, ...tickAxis,
          name: "{i|M}{u|Moon}{n| sin}{n|i}{n|/}{i|M}{u|BD}", nameLocation: "middle", nameGap: 57,
          nameTextStyle: { rich: nameRich },
          axisTick: { show: true, length: 5, customValues: massTicks, lineStyle: { color: "#000" } },
          axisLabel: { customValues: massTicks, margin: 9, formatter: powerLabel, rich: powerRich },
        },
        {
          gridIndex: 2, type: "value", min: 0, max: 1, interval: 0.2, position: "right",
          name: "Probability of detection", nameLocation: "middle", nameGap: 47, nameRotate: 90,
          nameTextStyle: { fontFamily: FONT, fontSize: FS, color: "#000" },
          axisLine: { show: false }, splitLine: { show: false },
          axisTick: { show: true, length: 5, lineStyle: { color: "#000" } },
          axisLabel: { margin: 9, fontFamily: FONT, fontSize: FS, color: "#000", formatter: (v: number) => v.toFixed(1) },
        },
      ],
      series: [
        polySeries(0, bluePolygon, BLUE, BLUE, "All data"),
        lineLeft("All data long", allDataLongPeriods, BLUE, 2.4, [8, 3.5], 2),
        lineLeft("All data inner", allDataLongPeriodsInner, BLUE, 2.2, [8, 3.5], 2),
        lineLeft("One night", oneNightLeft, ORANGE, 2.6, [8, 3.5], 3),
        lineLeft("One night dense", oneNightDense, ORANGE, 2.6, [8, 3.5], 3),
        polySeries(0, bandPolygon, ORANGE, ORANGE, "One night band"),
        lineLeft("One night long", oneNightRight, ORANGE, 2.4, [8, 3.5], 3),
        minorSeries(0, decades(-3, 2), []),

        polySeries(1, regionPolygon, levelColors[0], "none", "Level 0"),
        ...contours.map((c, i) => polySeries(1, levelPolygon(c), levelColors[i + 1], "rgba(255,255,255,0.3)", "Level " + contourLevels[i])),
        { type: "scatter", name: "Injection missed", xAxisIndex: 1, yAxisIndex: 1, data: missed.map(unlog), symbolSize: 4.6, itemStyle: { color: "#808080" }, z: 6, silent: true },
        { type: "scatter", name: "Injection recovered", xAxisIndex: 1, yAxisIndex: 1, data: recovered.map(unlog), symbolSize: 4.6, itemStyle: { color: "#000" }, z: 6, silent: true },
        { type: "line", name: "50% completeness - One night", xAxisIndex: 1, yAxisIndex: 1, data: completenessOneNight.map(unlog), symbol: "none", z: 7, lineStyle: { color: ORANGE, width: 4.2, type: [17, 7] } },
        { type: "line", name: "50% completeness - All data", xAxisIndex: 1, yAxisIndex: 1, data: completenessAllData.map(unlog), symbol: "none", z: 7, lineStyle: { color: BLUE, width: 4.2, type: [17, 7] } },
        minorSeries(1, decades(-1, 2), decades(-3, 0)),

        {
          type: "custom", name: "Colorbar", xAxisIndex: 2, yAxisIndex: 2, silent: true, z: 2,
          data: levelColors.map((_, i) => [0, i]),
          renderItem: (params: any, api: any) => {
            const i = params.dataIndex;
            const lo = i === 0 ? 0 : contourLevels[i - 1];
            const hi = i === levelColors.length - 1 ? 1 : contourLevels[i];
            const a = api.coord([0, hi]);
            const b = api.coord([1, lo]);
            return { type: "rect", shape: { x: a[0], y: a[1], width: b[0] - a[0], height: b[1] - a[1] }, style: { fill: levelColors[i] } };
          },
        },
      ],
      graphic: [
        { type: "rect", z: 100, shape: { x: 96.5, y: 12.5, width: 323, height: 65, r: 3 }, style: { fill: "rgba(255,255,255,0.8)", stroke: "rgba(204,204,204,0.8)", lineWidth: 1 } },
        legendDash(103, 140, 28, BLUE, 2.2, [9, 4]),
        legendDash(103, 140, 57, ORANGE, 2.2, [9, 4]),
        legendEntry(156, 28, "{n|All data, \u0394BIC}{u|thresh}{n| = 13.1}"),
        legendEntry(156, 57, "{n|One night, \u0394BIC}{u|thresh}{n| = 10.5}"),

        { type: "rect", z: 100, shape: { x: 785.5, y: 22.5, width: 358, height: 115.5, r: 3 }, style: { fill: "rgba(255,255,255,0.8)", stroke: "rgba(204,204,204,0.8)", lineWidth: 1 } },
        { type: "circle", z: 101, shape: { cx: 811.7, cy: 37, r: 2.2 }, style: { fill: "#000" } },
        { type: "circle", z: 101, shape: { cx: 811.7, cy: 65, r: 2.2 }, style: { fill: "#808080" } },
        legendDash(793, 831, 92.5, ORANGE, 4.2, [17, 8]),
        legendDash(793, 831, 120.5, BLUE, 4.2, [17, 8]),
        legendEntry(846, 37, "{n|Injection recovered}"),
        legendEntry(846, 65, "{n|Injection missed}"),
        legendEntry(846, 92, "{n|50% completeness - One night}"),
        legendEntry(846, 120, "{n|50% completeness - All data}"),

        { type: "text", x: 257, y: 571, style: { text: "(a) Periodogram", font: '23.5px "Liberation Serif"', fill: "#000", align: "left", verticalAlign: "middle" } },
        { type: "text", x: 932, y: 571, style: { text: "(b) Completeness", font: '23.5px "Liberation Serif"', fill: "#000", align: "left", verticalAlign: "middle" } },
      ],
    });
    return () => chart.dispose();
  }, []);
  return <div ref={ref} style={{ position: "absolute", left: 0, top: 0, width: 1351, height: 585, background: "#fff" }} />;
}
